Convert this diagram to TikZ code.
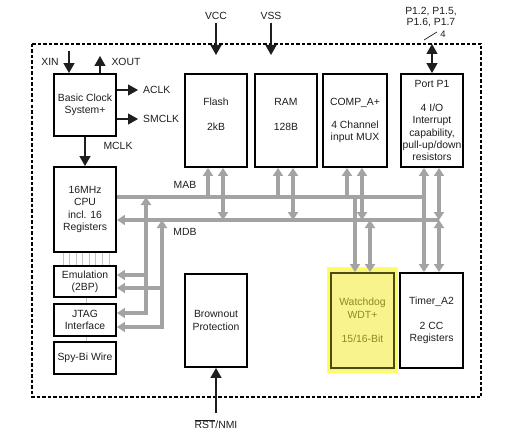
\documentclass[tikz,border=0pt]{standalone}
\usepackage{fontspec}
\setmainfont{Liberation Sans}
\usetikzlibrary{arrows.meta,positioning}
\definecolor{busgray}{HTML}{A3A3A3}
\definecolor{wiregray}{HTML}{C4C4C4}
\definecolor{hlfill}{HTML}{F8F38C}
\definecolor{hlrim}{HTML}{FFFF55}
\definecolor{wdtline}{HTML}{4B4B12}
\definecolor{wdttext}{HTML}{8C8A28}
\definecolor{ink}{HTML}{1E1E1E}

\begin{document}
\begin{tikzpicture}[x=1pt,y=-1pt,
 blk/.style={draw=black,line width=1.9pt,align=center,inner sep=0pt,minimum width=62pt,text=ink,font=\fontsize{10.4}{12.3}\selectfont},
 lbl/.style={text=ink,font=\fontsize{10.4}{12}\selectfont,inner sep=1pt},
 sig/.style={-{Triangle[length=10pt,width=11pt]},line width=1.2pt,ink},
 sigdbl/.style={{Triangle[length=10pt,width=11pt]}-{Triangle[length=10pt,width=11pt]},line width=1.2pt,ink},
 bus/.style={line width=3.2pt,busgray},
 busarr/.style={bus,-{Triangle[length=8pt,width=10pt]}},
 busdbl/.style={bus,{Triangle[length=8pt,width=10pt]}-{Triangle[length=8pt,width=10pt]}},
 wire/.style={line width=0.8pt,wiregray}]
 \useasboundingbox (0,0) rectangle (521,433);
 \draw[line width=2.8pt,dash pattern=on 3.5pt off 2pt] (32,44) rectangle (481,397);
 \node[blk,minimum height=62pt] (clock) at (85,105) {Basic Clock\\System+};
 \node[blk,minimum height=85pt] (cpu) at (85,209.5) {16MHz\\CPU\\incl. 16\\Registers};
 \node[blk,minimum height=31pt] (emu) at (85,281.5) {Emulation\\(2BP)};
 \node[blk,minimum height=32pt] (jtag) at (85,320) {JTAG\\Interface};
 \node[blk,minimum height=32pt] (sbw) at (85,358) {Spy-Bi Wire};
 \node[blk,minimum height=93pt] (flash) at (216,120.5) {Flash\\[12pt]2kB\\\mbox{}};
 \node[blk,minimum height=93pt] (ram) at (286,120.5) {RAM\\[12pt]128B\\\mbox{}};
 \node[blk,minimum height=93pt,minimum width=64pt] (comp) at (355,120.5) {COMP\_A+\\[10pt]4 Channel\\input MUX};
 \node[blk,minimum height=93pt] (port) at (432,120.5) {Port P1\\[12pt]4 I/O\\Interrupt\\capability,\\pull-up/down\\resistors};
 \node[blk,minimum height=93pt] (bor) at (216,320.5) {Brownout\\Protection};
 \node[fill=hlfill,draw=hlrim,line width=2pt,minimum width=69pt,minimum height=104pt] (glow) at (362.5,320) {};
 \node[blk,draw=wdtline,fill=hlfill,text=wdttext,minimum width=63pt,minimum height=95pt] (wdt) at (362.5,320.5) {Watchdog\\WDT+\\[12pt]15/16-Bit};
 \node[blk,minimum width=63pt,minimum height=95pt] (timer) at (431.5,320.5) {Timer\_A2\\[12pt]2 CC\\Registers};
 \foreach \i in {0,...,7}
  \draw[wire] ([xshift={(\i-3.5)*6.57pt+1pt}]cpu.south) -- ([xshift={(\i-3.5)*6.57pt+1pt}]emu.north);
 \draw[wire] ([xshift=1pt]emu.south) -- ([xshift=1pt]jtag.north);
 \draw[wire] ([xshift=1pt]jtag.south) -- ([xshift=1pt]sbw.north);
 \coordinate (mabR) at (424,197);
 \coordinate (mdbR) at (439,220);
 \coordinate (abus) at (146,197);
 \coordinate (dbus) at (162,220);
 \draw[bus] (cpu.east |- mabR) -- (mabR);
 \draw[busarr] (mdbR) -- (cpu.east |- mdbR);
 \foreach \n in {flash,ram,comp}{
  \draw[busarr] ([xshift=-8pt]\n.south |- mabR) -- ([xshift=-8pt]\n.south);
  \draw[busdbl] ([xshift=7pt]\n.south) -- ([xshift=7pt]\n.south |- mdbR);
 }
 \draw[busdbl] ([xshift=-8pt]port.south) -- ([xshift=-8pt]port.south |- timer.north);
 \draw[busdbl] ([xshift=7pt]port.south) -- (mdbR);
 \draw[busdbl] (mdbR) -- (mdbR |- timer.north);
 \draw[busarr] ([xshift=-7.5pt]wdt.north |- mabR) -- ([xshift=-7.5pt]wdt.north);
 \draw[busdbl] ([xshift=7.5pt]wdt.north |- mdbR) -- ([xshift=7.5pt]wdt.north);
 \draw[busdbl] (abus) |- ([yshift=7pt]jtag.east);
 \draw[busarr] ([yshift=6.5pt]emu.east -| abus) -- ([yshift=6.5pt]emu.east);
 \draw[busdbl] (dbus) |- ([yshift=-7pt]jtag.east);
 \draw[busarr] ([yshift=-6.5pt]emu.east -| dbus) -- ([yshift=-6.5pt]emu.east);
 \node[lbl] (mab) at (185,185) {MAB};
 \node[lbl] (mdb) at (185,232) {MDB};
 \coordinate (xin) at (69,51);
 \coordinate (xout) at (100,56);
 \coordinate (aclk) at (138,90);
 \coordinate (smclk) at (138,119);
 \draw[sig] (xin) -- (xin |- clock.north);
 \draw[sig] (clock.north -| xout) -- (xout);
 \draw[sig] (clock.east |- aclk) -- (aclk);
 \draw[sig] (clock.east |- smclk) -- (smclk);
 \draw[sig] (clock) -- (cpu);
 \node[lbl] (xinlbl) at (50,62) {XIN};
 \node[lbl] (xoutlbl) at (126,62) {XOUT};
 \node[lbl,anchor=west] (aclklbl) at (142,90) {ACLK};
 \node[lbl,anchor=west] (smclklbl) at (142,119) {SMCLK};
 \node[lbl] (mclklbl) at (118,146) {MCLK};
 \node[lbl] (vcclbl) at (216,16) {VCC};
 \node[lbl] (vsslbl) at (271,16) {VSS};
 \coordinate (vccin) at (216,55);
 \coordinate (vssin) at (271,55);
 \draw[sig,shorten <=2pt] (vcclbl) -- (vccin);
 \draw[sig,shorten <=2pt] (vsslbl) -- (vssin);
 \node[lbl,align=center,font=\fontsize{10.4}{11}\selectfont] (pins) at (431,17.5) {P1.2, P1.5,\\P1.6, P1.7};
 \coordinate (pin) at (432,44);
 \draw[sigdbl] (pin) -- (port.north);
 \draw[line width=0.7pt,ink] (424,40) -- (437,32);
 \node[lbl,font=\fontsize{9.5}{10}\selectfont] (pcount) at (443,34) {4};
 \node[lbl] (rstlbl) at (216,424) {$\overline{\hbox{RST}}$/NMI};
 \draw[sig,shorten <=5pt] (rstlbl) -- (bor.south);
\end{tikzpicture}
\end{document}
